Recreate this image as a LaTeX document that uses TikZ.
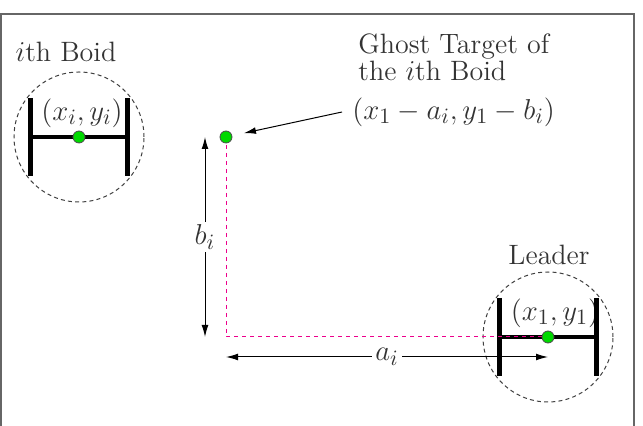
\documentclass[tikz,border=0pt]{standalone}
\usetikzlibrary{positioning,arrows.meta}
\begin{document}
\begin{tikzpicture}[x=0.5pt,y=-0.5pt,
    every node/.style={font=\fontsize{14}{13.5}\selectfont,text=black!80},
    mathlbl/.style={font=\fontsize{15.5}{16}\selectfont},
    zone/.style={circle,draw=black!75,dash pattern=on 2pt off 1.6pt,line width=0.5pt,minimum size=65pt,inner sep=0pt},
    dot/.style={circle,draw=black!70,fill=green!85!black,inner sep=0pt,minimum size=6pt},
    bar/.style={line width=2.3pt},
    ghostline/.style={magenta,dash pattern=on 2pt off 2pt,line width=0.5pt},
    dim/.style={{Latex[length=6pt,width=3.4pt]}-{Latex[length=6pt,width=3.4pt]},line width=0.5pt}]
  \useasboundingbox (0,0) rectangle (643,426);
  \draw[black!60,line width=1pt] (1,426) |- (634,14) -- (634,426);

  % boids and ghost target
  \coordinate (boid) at (79,137);
  \coordinate (lead) at (548,337);
  \coordinate (ghost) at (226,137);
  \coordinate (corner) at (226,337);

  \node[zone] (boidzone) at (boid) {};
  \node[zone] (leadzone) at (lead) {};
  \node[mathlbl] (boidpos) at (82,113) {$(x_i,y_i)$};
  \node[mathlbl] (leadpos) at (555,313) {$(x_1,y_1)$};
  \node (boidname) at (66,52) {$i$th Boid};
  \node (leadname) at (549,255) {Leader};
  \node[align=left,anchor=west,inner sep=0pt] (ghostname) at (358,57) {Ghost Target of\\the $i$th Boid};
  \node[mathlbl,anchor=west,inner sep=0pt] (ghostpos) at (352,112) {$(x_1-a_i,y_1-b_i)$};

  \foreach \c in {boid,lead} {
    \draw[bar] ([xshift=-24.25pt]\c) -- ([xshift=24.25pt]\c);
    \draw[bar] ([xshift=-24.25pt,yshift=19.5pt]\c) -- ([xshift=-24.25pt,yshift=-19.5pt]\c);
    \draw[bar] ([xshift=24.25pt,yshift=19.5pt]\c) -- ([xshift=24.25pt,yshift=-19.5pt]\c);
  }
  \draw[ghostline] (ghost) -- (corner) -- (lead);

  \node[dot] (boiddot) at (boid) {};
  \node[dot] (leaddot) at (lead) {};
  \node[dot] (ghostdot) at (ghost) {};

  \draw[-{Latex[length=6pt,width=3.4pt]},line width=0.5pt] ([xshift=-5pt]ghostpos.west) -- (ghostdot) [shorten >=6pt];
  \draw[dim] ([xshift=-10.5pt]ghost) -- node[mathlbl,fill=white,inner sep=1.5pt] (bi) {$b_i$} ([xshift=-10.5pt]corner);
  \draw[dim] ([yshift=-10pt]corner) -- node[mathlbl,fill=white,inner sep=1.5pt] (ai) {$a_i$} ([yshift=-10pt]lead);
\end{tikzpicture}
\end{document}
